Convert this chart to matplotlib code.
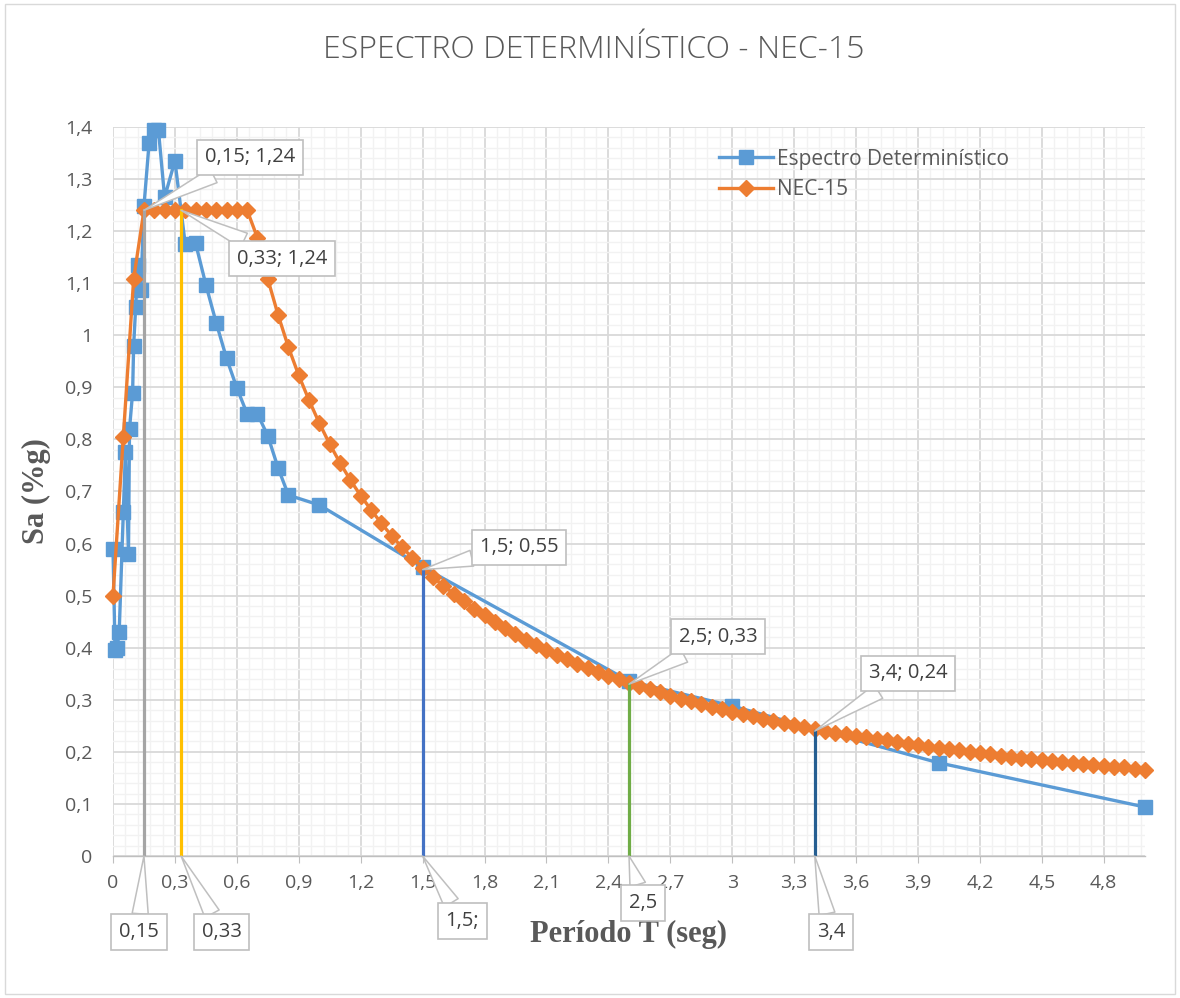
import matplotlib
matplotlib.use("Agg")
import matplotlib.pyplot as plt
from matplotlib.ticker import MultipleLocator, FuncFormatter
from matplotlib.patches import Rectangle

# ---- data -------------------------------------------------------------
# Espectro determinístico: period T (s) and spectral acceleration Sa (g)
det_T = [0.0, 0.01, 0.02, 0.03, 0.05, 0.06, 0.075, 0.08, 0.095, 0.10,
         0.11, 0.12, 0.135, 0.15, 0.175, 0.20, 0.22, 0.25, 0.30, 0.35,
         0.40, 0.45, 0.50, 0.55, 0.60, 0.65, 0.70, 0.75, 0.80, 0.85,
         1.00, 1.50, 2.50, 3.00, 4.00, 5.00]
det_Sa = [0.59, 0.395, 0.40, 0.43, 0.66, 0.775, 0.58, 0.82, 0.89, 0.98,
          1.055, 1.135, 1.087, 1.248, 1.37, 1.395, 1.395, 1.265, 1.335, 1.175,
          1.177, 1.097, 1.024, 0.956, 0.899, 0.849, 0.849, 0.807, 0.745, 0.693,
          0.674, 0.555, 0.336, 0.288, 0.179, 0.094]

# Espectro elástico NEC-15, every 0.05 s from 0 to 5 s
nec_T = [round(0.05 * i, 2) for i in range(101)]
nec_Sa = [0.500, 0.805, 1.108,
          1.24, 1.24, 1.24, 1.24, 1.24, 1.24, 1.24, 1.24, 1.24, 1.24, 1.24,
          1.187, 1.108, 1.039, 0.977, 0.923, 0.875, 0.831, 0.791, 0.755, 0.722,
          0.692, 0.665, 0.639, 0.615, 0.593, 0.573, 0.554, 0.536, 0.519, 0.504,
          0.489, 0.475, 0.462, 0.449, 0.437, 0.426, 0.415, 0.405, 0.396, 0.386,
          0.378, 0.369, 0.361, 0.354, 0.346, 0.339, 0.332, 0.326, 0.320, 0.314,
          0.308, 0.302, 0.297, 0.292, 0.286, 0.282, 0.277, 0.272, 0.268, 0.264,
          0.260, 0.256, 0.252, 0.248, 0.244, 0.241, 0.237, 0.234, 0.231, 0.228,
          0.225, 0.222, 0.219, 0.216, 0.213, 0.210, 0.208, 0.205, 0.203, 0.200,
          0.198, 0.195, 0.193, 0.191, 0.189, 0.187, 0.185, 0.183, 0.181, 0.179,
          0.177, 0.175, 0.173, 0.171, 0.170, 0.168, 0.166]

# Reference periods marked with vertical lines (T, Sa)
mark_T = [0.15, 0.33, 1.5, 2.5, 3.4]
mark_Sa = [1.24, 1.24, 0.55, 0.33, 0.24]
mark_colors = ["#A5A5A5", "#FFC000", "#4472C4", "#70AD47", "#255E91"]
top_labels = ["0,15; 1,24", "0,33; 1,24", "1,5; 0,55", "2,5; 0,33", "3,4; 0,24"]
bottom_labels = ["0,15", "0,33", "1,5;", "2,5", "3,4"]

# label box centres (data coordinates)
top_pos = [(0.663, 1.342), (0.818, 1.147), (1.969, 0.593), (2.932, 0.421), (3.851, 0.351)]
bottom_pos = [(0.126, -0.146), (0.527, -0.146), (1.693, -0.125), (2.569, -0.090), (3.478, -0.146)]

# ---- figure -----------------------------------------------------------
TXT = "#595959"
SANS = ["Open Sans", "DejaVu Sans"]
SERIF = ["Liberation Serif", "DejaVu Serif"]

fig = plt.figure(figsize=(11.80, 9.98), dpi=100)
fig.patches.append(Rectangle((0.004, 0.004), 0.992, 0.992, transform=fig.transFigure,
                             fill=False, ec="#D9D9D9", lw=1.0))
ax = fig.add_axes([113 / 1180, 1 - 856 / 998, (1145 - 113) / 1180, (856 - 127) / 998])

ax.set_xlim(0, 5.0)
ax.set_ylim(0, 1.4)
ax.xaxis.set_major_locator(MultipleLocator(0.3))
ax.xaxis.set_minor_locator(MultipleLocator(0.06))
ax.yaxis.set_major_locator(MultipleLocator(0.1))
ax.yaxis.set_minor_locator(MultipleLocator(0.02))


def comma_fmt(v, pos):
    s = f"{v:.1f}".rstrip("0").rstrip(".")
    if s == "-0":
        s = "0"
    return s.replace(".", ",")


ax.xaxis.set_major_formatter(FuncFormatter(comma_fmt))
ax.yaxis.set_major_formatter(FuncFormatter(comma_fmt))

ax.grid(which="major", color="#D9D9D9", lw=1.3)
ax.grid(which="minor", color="#F2F2F2", lw=1.0)
ax.set_axisbelow(True)
for side in ["top", "right", "left"]:
    ax.spines[side].set_visible(False)
ax.spines["bottom"].set_color("#BFBFBF")
ax.spines["bottom"].set_linewidth(1.0)

ax.tick_params(axis="x", which="major", length=5, color="#BFBFBF", pad=8,
               labelsize=14, labelcolor=TXT)
ax.tick_params(axis="y", which="major", length=0, pad=15, labelsize=14, labelcolor=TXT)
ax.tick_params(which="minor", length=0)
for lab in ax.get_xticklabels() + ax.get_yticklabels():
    lab.set_family(SANS)

# series
ax.plot(det_T, det_Sa, color="#5B9BD5", lw=2.4, marker="s", ms=10.5,
        label="Espectro Determinístico", zorder=3, clip_on=False)
ax.plot(nec_T, nec_Sa, color="#ED7D31", lw=2.4, marker="D", ms=8,
        label="NEC-15", zorder=4, clip_on=False)

# vertical markers with callout labels
for T, Sa, c, tl, bl, tp, bp in zip(mark_T, mark_Sa, mark_colors, top_labels,
                                    bottom_labels, top_pos, bottom_pos):
    ax.plot([T, T], [0, Sa], color=c, lw=2.3, zorder=5)
    for txt, pos, anchor in ((tl, tp, (T, Sa)), (bl, bp, (T, 0))):
        ax.annotate(txt, xy=anchor, xytext=pos, textcoords="data",
                    ha="center", va="center", fontsize=14.5, color="#404040",
                    family=SANS, zorder=10, annotation_clip=False,
                    bbox=dict(boxstyle="square,pad=0.38", fc="white", ec="#BFBFBF", lw=1.2),
                    arrowprops=dict(arrowstyle="wedge,tail_width=0.8,shrink_factor=0.5",
                                    fc="white", ec="#BFBFBF", lw=1.1, shrinkA=0, shrinkB=0))

leg = ax.legend(loc="upper left", bbox_to_anchor=(702 / 1180, 1 - 132 / 998),
                bbox_transform=fig.transFigure, frameon=False, handlelength=2.6,
                handletextpad=0.2, labelspacing=0.45, borderpad=0.3,
                prop={"family": SANS, "size": 15})
for t in leg.get_texts():
    t.set_color(TXT)

fig.text(594 / 1180, 1 - 50 / 998, "ESPECTRO DETERMINÍSTICO - NEC-15", ha="center",
         va="center", fontsize=23, color=TXT, family=SANS, fontweight="light")
ax.set_xlabel("Período T (seg)", fontsize=22, fontweight="bold", color=TXT, family=SERIF,
              labelpad=20)
ax.set_ylabel("Sa (%g)", fontsize=22, fontweight="bold", color=TXT, family=SERIF,
              labelpad=10)

fig.savefig("out.png", dpi=100)
